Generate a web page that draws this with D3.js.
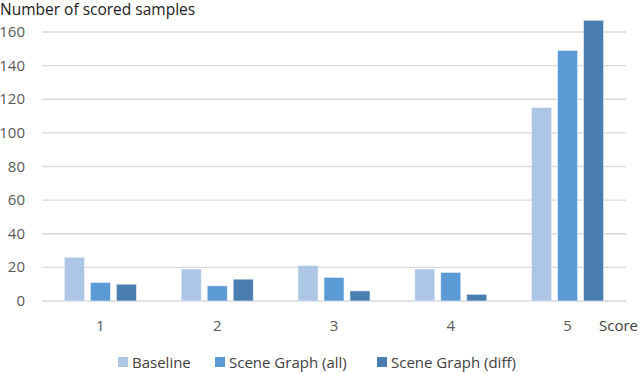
<!DOCTYPE html>
<html>
<head>
<meta charset="utf-8">
<script src="https://cdn.jsdelivr.net/npm/d3@7"></script>
<style>
  body { margin: 0; background: #fff; }
  text { font-family: "Open Sans", sans-serif; }
</style>
</head>
<body>
<svg id="chart" width="640" height="373"></svg>
<script>
var scores = ["1", "2", "3", "4", "5"];
var seriesNames = ["Baseline", "Scene Graph (all)", "Scene Graph (diff)"];
var baseline = [26, 19, 21, 19, 115];
var sgAll = [11, 9, 14, 17, 149];
var sgDiff = [10, 13, 6, 4, 167];
var yTicks = [0, 20, 40, 60, 80, 100, 120, 140, 160];
var colors = ["#aec6e6", "#5b9bd5", "#4a7eb1"];

var svg = d3.select("#chart"),
    plotLeft = 42, plotRight = 626, plotTop = 32, plotBottom = 301;

var x = d3.scaleBand().domain(scores).range([plotLeft, plotRight]);
var sub = d3.scaleBand().domain(seriesNames).range([-36, 36]).paddingInner(0.23);
var y = d3.scaleLinear().domain([0, 160]).range([plotBottom, plotTop]);

// gridlines
svg.append("g").selectAll("line").data(yTicks).join("line")
  .attr("x1", plotLeft).attr("x2", plotRight)
  .attr("y1", function(d) { return y(d); }).attr("y2", function(d) { return y(d); })
  .attr("stroke", "#d9d9d9").attr("stroke-width", 1.3);

// y tick labels
svg.append("g").selectAll("text").data(yTicks).join("text")
  .attr("x", 25).attr("y", function(d) { return y(d) + 5; })
  .attr("text-anchor", "end").attr("font-size", 15).attr("fill", "#595959")
  .text(function(d) { return d; });

var rows = [baseline, sgAll, sgDiff];
var data = [];
scores.forEach(function(s, i) {
  seriesNames.forEach(function(n, j) {
    data.push({ score: s, series: n, value: rows[j][i], c: colors[j] });
  });
});

svg.append("g").selectAll("rect").data(data).join("rect")
  .attr("x", function(d) { return x(d.score) + x.bandwidth() / 2 + sub(d.series); })
  .attr("width", sub.bandwidth())
  .attr("y", function(d) { return y(d.value); })
  .attr("height", function(d) { return plotBottom - y(d.value); })
  .attr("fill", function(d) { return d.c; })
  .attr("stroke", "#eaf2fb").attr("stroke-width", 0.6);

// x labels
svg.append("g").selectAll("text").data(scores).join("text")
  .attr("x", function(d) { return x(d) + x.bandwidth() / 2; })
  .attr("y", 331).attr("text-anchor", "middle")
  .attr("font-size", 15).attr("fill", "#595959")
  .text(function(d) { return d; });

svg.append("text").attr("x", 599).attr("y", 331)
  .attr("font-size", 15).attr("fill", "#404040").text("Score");

svg.append("text").attr("x", 0).attr("y", 15)
  .attr("font-size", 15.5).attr("fill", "#202020").text("Number of scored samples");

// legend
var legendX = [118, 215, 377];
var leg = svg.append("g").selectAll("g").data(seriesNames).join("g")
  .attr("transform", function(d, i) { return "translate(" + legendX[i] + ",357)"; });
leg.append("rect").attr("width", 10).attr("height", 10)
  .attr("fill", function(d, i) { return colors[i]; });
leg.append("text").attr("x", 14).attr("y", 10.5)
  .attr("font-size", 15).attr("fill", "#404040")
  .text(function(d) { return d; });
</script>
</body>
</html>
